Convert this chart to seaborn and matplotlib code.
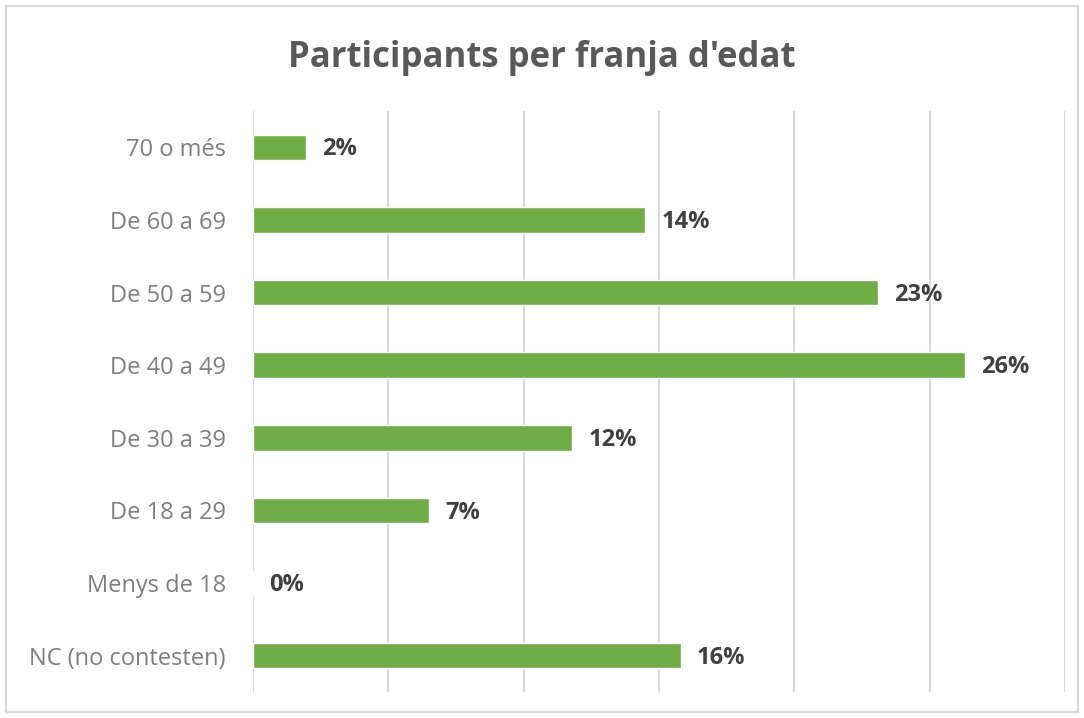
import matplotlib
matplotlib.use("Agg")
import pandas as pd
import seaborn as sns
from matplotlib import pyplot as plt
from matplotlib.patches import Rectangle

sns.set_style("white")
plt.rcParams["font.family"] = ["Open Sans", "DejaVu Sans"]

# age groups, top to bottom as shown
groups = ["70 o més", "De 60 a 69", "De 50 a 59", "De 40 a 49",
          "De 30 a 39", "De 18 a 29", "Menys de 18", "NC (no contesten)"]
# share of participants (%)
shares = [1.96, 14.5, 23.1, 26.3, 11.8, 6.5, 0.0, 15.8]
# labels as printed on the chart
labels = ["2%", "14%", "23%", "26%", "12%", "7%", "0%", "16%"]

df = pd.DataFrame({"group": groups, "share": shares})

fig = plt.figure(figsize=(10.84, 7.18), dpi=100)
ax = fig.add_axes([0.2334, 0.0362, 0.749, 0.8092])

sns.barplot(data=df, x="share", y="group", orient="h", color="#70AD47",
            saturation=1, width=0.35, ax=ax)

ax.set_xlim(0, 30)
ax.set_xticks(range(0, 31, 5))
ax.set_xticklabels([])
ax.xaxis.grid(True, color="#D9D9D9", linewidth=1.5)
ax.set_axisbelow(True)
ax.tick_params(axis="both", length=0)
ax.tick_params(axis="y", labelsize=17, labelcolor="#7F7F7F", pad=19.5)
ax.set_xlabel("")
ax.set_ylabel("")
for s in ax.spines.values():
    s.set_visible(False)

for i, (v, lab) in enumerate(zip(shares, labels)):
    ax.annotate(lab, (v, i), xytext=(11.5, -1.5), textcoords="offset points",
                va="center", ha="left", fontsize=17, fontweight="bold",
                color="#404040")

fig.text(0.5, 0.919, "Participants per franja d'edat", ha="center",
         va="center", fontsize=25, fontweight="bold", color="#595959")

fig.patches.append(Rectangle((6 / 1084, 6 / 718), 1072 / 1084, 706 / 718,
                             transform=fig.transFigure, fill=False,
                             edgecolor="#D9D9D9", linewidth=1.5))

fig.savefig("out.png", dpi=100)
